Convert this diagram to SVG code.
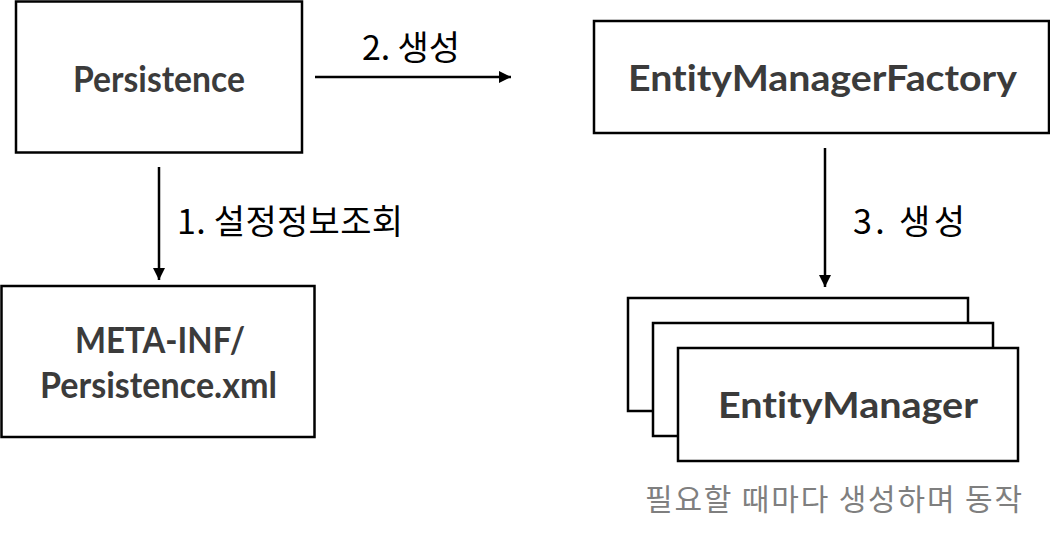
<svg xmlns="http://www.w3.org/2000/svg" width="1050" height="543" viewBox="0 0 1050 543">
<style>
.box{fill:#fff;stroke:#000;stroke-width:2.5}
.t{font-family:Lato,"Noto Sans",sans-serif;font-weight:bold;font-size:37px;fill:#3b3b3b;font-variant-ligatures:none;font-feature-settings:"liga" 0,"clig" 0}
.lbl{font-family:"Noto Sans CJK KR",sans-serif;font-size:34px;fill:#000}
.cap{font-family:"Noto Sans CJK KR",sans-serif;font-size:30px;fill:#7f7f7f}
.c{stroke:#000;stroke-width:2.5;fill:none}
</style>
<defs>
<marker id="ah" viewBox="0 0 10 10" refX="10" refY="5" markerWidth="5" markerHeight="5" markerUnits="strokeWidth" orient="auto">
<path d="M0,0L10,5L0,10z" fill="#000"/>
</marker>
</defs>
<rect width="1050" height="543" fill="#fff"/>
<g id="persistence">
<rect class="box" x="16" y="1.5" width="286" height="151"/>
<text class="t" x="73" y="92" textLength="172" lengthAdjust="spacingAndGlyphs">Persistence</text>
</g>
<g id="emf">
<rect class="box" x="594" y="21" width="455" height="112"/>
<text class="t" x="628" y="91" textLength="389" lengthAdjust="spacingAndGlyphs">EntityManagerFactory</text>
</g>
<g id="meta">
<rect class="box" x="1.5" y="286" width="313" height="151"/>
<text class="t" x="75" y="353" textLength="170" lengthAdjust="spacingAndGlyphs">META-INF/</text>
<text class="t" x="40" y="398" textLength="237" lengthAdjust="spacingAndGlyphs">Persistence.xml</text>
</g>
<g id="em">
<rect class="box" x="628" y="298" width="340" height="113"/>
<rect class="box" x="653" y="323" width="340" height="113"/>
<rect class="box" x="678" y="348" width="340" height="113"/>
<text class="t" x="718" y="418" textLength="260" lengthAdjust="spacingAndGlyphs">EntityManager</text>
</g>
<g id="connectors">
<line class="c" x1="315" y1="77" x2="511" y2="77" marker-end="url(#ah)"/>
<line class="c" x1="159" y1="167" x2="159" y2="280" marker-end="url(#ah)"/>
<line class="c" x1="825" y1="148" x2="825" y2="287" marker-end="url(#ah)"/>
</g>
<g id="labels">
<text class="lbl" x="362" y="60" textLength="98" lengthAdjust="spacing">2. 생성</text>
<text class="lbl" x="177" y="234" textLength="226" lengthAdjust="spacing">1. 설정정보조회</text>
<text class="lbl" x="853" y="234" textLength="112" lengthAdjust="spacing">3. 생성</text>
<text class="cap" x="645" y="510" textLength="377" lengthAdjust="spacing">필요할 때마다 생성하며 동작</text>
</g>
</svg>
